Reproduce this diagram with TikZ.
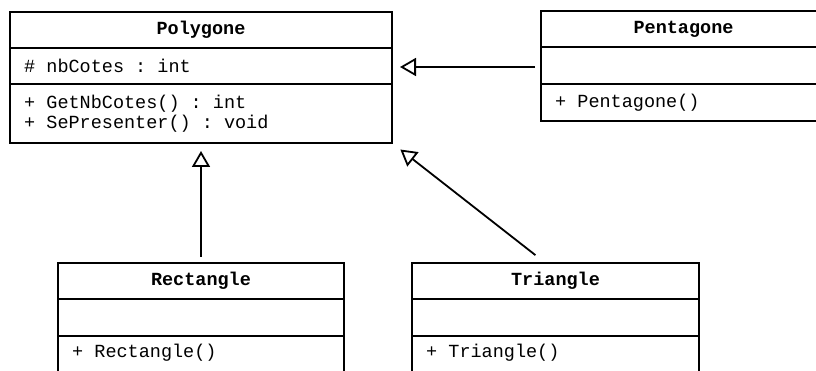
\documentclass[tikz,border=0pt]{standalone}
\usepackage{fontspec}
\setmonofont{Liberation Mono}
\usetikzlibrary{arrows.meta}
\begin{document}
\begin{tikzpicture}[x=1pt,y=-1pt]
\tikzset{
  classbox/.style={draw, line width=2.8pt, fill=white, inner sep=0pt, outer sep=0pt, anchor=north west},
  divider/.style={line width=2.8pt},
  ctitle/.style={font=\ttfamily\bfseries\fontsize{18.5}{20}\selectfont, inner sep=0pt},
  member/.style={font=\ttfamily\fontsize{18.5}{20}\selectfont, inner sep=0pt, anchor=west, align=left},
  inherit/.style={line width=1.8pt, -{Triangle[open, length=16pt, width=18pt, line width=1.8pt]}}
}
\useasboundingbox (0,0) rectangle (816,371);
\fill[white] (0,0) rectangle (816,371);

% Polygone
\node[classbox, minimum width=382pt, minimum height=131pt] (poly) at (10,12) {};
\draw[divider] (10,48) -- (392,48);
\draw[divider] (10,84) -- (392,84);
\node[ctitle] (polyT) at (201,30) {Polygone};
\node[member] (polyA) at (24,66) {\# nbCotes : int};
\node[member] (polyM) at (24,114) {+ GetNbCotes() : int\\+ SePresenter() : void};

% Pentagone
\node[classbox, minimum width=285pt, minimum height=110pt] (pent) at (541,11) {};
\draw[divider] (541,47) -- (826,47);
\draw[divider] (541,84) -- (826,84);
\node[ctitle] (pentT) at (683.5,29) {Pentagone};
\node[member] (pentM) at (555,103) {+ Pentagone()};

% Rectangle
\node[classbox, minimum width=286pt, minimum height=120pt] (rect) at (58,263) {};
\draw[divider] (58,299) -- (344,299);
\draw[divider] (58,336) -- (344,336);
\node[ctitle] (rectT) at (201,281) {Rectangle};
\node[member] (rectM) at (72,353) {+ Rectangle()};

% Triangle
\node[classbox, minimum width=287pt, minimum height=120pt] (tri) at (412,263) {};
\draw[divider] (412,299) -- (699,299);
\draw[divider] (412,336) -- (699,336);
\node[ctitle] (triT) at (555.5,281) {Triangle};
\node[member] (triM) at (426,353) {+ Triangle()};

% Generalisation links
\draw[inherit, shorten <=6pt, shorten >=8pt] (pent.west |- 0,67) -- (poly.east |- 0,67);
\draw[inherit, shorten <=6pt, shorten >=8pt] (rect.north) -- (rect.north |- poly.south);
\draw[inherit, shorten <=12.8pt, shorten >=10.6pt] ([xshift=-10pt]tri.north) -- (poly.south east);
\end{tikzpicture}
\end{document}
